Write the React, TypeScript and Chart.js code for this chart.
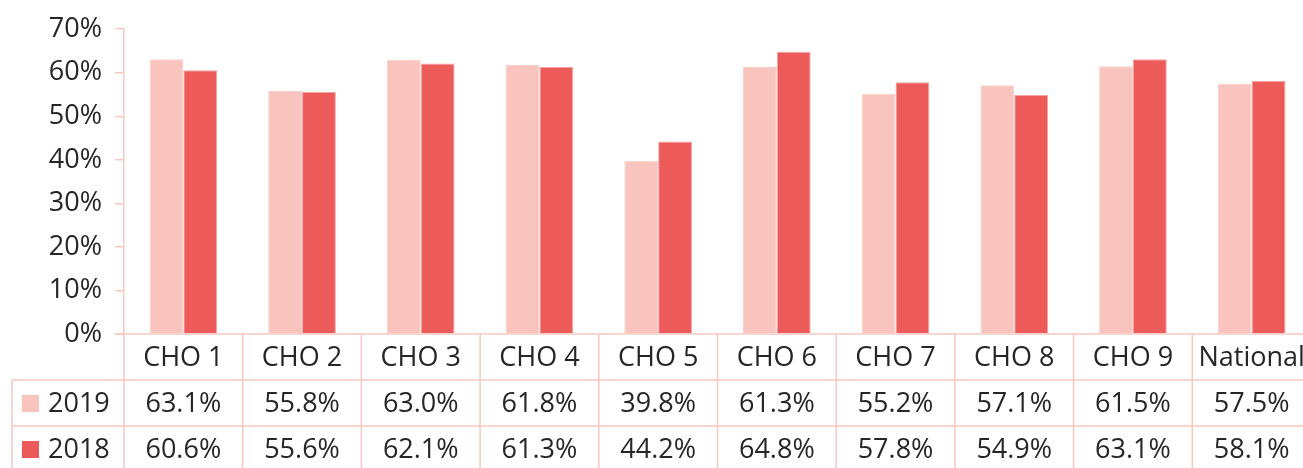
import React, { useEffect, useRef } from "react";
import { Chart, registerables } from "chart.js";

Chart.register(...registerables);

const categories = ["CHO 1", "CHO 2", "CHO 3", "CHO 4", "CHO 5", "CHO 6", "CHO 7", "CHO 8", "CHO 9", "National"];
const values2019 = [63.1, 55.8, 63.0, 61.8, 39.8, 61.3, 55.2, 57.1, 61.5, 57.5];
const values2018 = [60.6, 55.6, 62.1, 61.3, 44.2, 64.8, 57.8, 54.9, 63.1, 58.1];
const seriesLabels = ["2019", "2018"];

const LIGHT = "#F8C4BD";
const RED = "#EC5A5A";
const LINE = "#F8C8C0";
const TEXT = "#262626";
const FONT = "'Open Sans', 'Noto Sans', sans-serif";
const FONT_SIZE = 27;

const ROW_H = 46;

const tablePlugin = {
  id: "dataTable",
  afterDraw(chart: any) {
    const ctx = chart.ctx as CanvasRenderingContext2D;
    const area = chart.chartArea;
    const x = chart.scales.x;
    const n = categories.length;
    const catW = (area.right - area.left) / n;
    const top = area.bottom;
    const bottom = chart.height + 10;
    const legendLeft = 12;
    ctx.save();
    ctx.strokeStyle = LINE;
    ctx.lineWidth = 1.5;
    ctx.beginPath();
    ctx.moveTo(area.left - 9, top);
    ctx.lineTo(area.right, top);
    for (let r = 1; r <= 2; r++) {
      const y = top + r * ROW_H;
      ctx.moveTo(legendLeft, y);
      ctx.lineTo(area.right, y);
    }
    for (let i = 0; i <= n; i++) {
      const xx = area.left + i * catW;
      ctx.moveTo(xx, top);
      ctx.lineTo(xx, bottom);
    }
    ctx.moveTo(legendLeft, top + ROW_H);
    ctx.lineTo(legendLeft, bottom);
    ctx.stroke();

    ctx.fillStyle = TEXT;
    ctx.font = `${FONT_SIZE}px ${FONT}`;
    ctx.textAlign = "center";
    ctx.textBaseline = "middle";
    const rows = [values2019, values2018];
    for (let i = 0; i < n; i++) {
      const cx = x.getPixelForValue(i);
      ctx.fillText(categories[i], cx, top + ROW_H / 2 + 1);
      for (let r = 0; r < rows.length; r++) {
        ctx.fillText(rows[r][i].toFixed(1) + "%", cx, top + ROW_H * (r + 1) + ROW_H / 2 + 1);
      }
    }
    const colors = [LIGHT, RED];
    ctx.textAlign = "left";
    for (let r = 0; r < seriesLabels.length; r++) {
      const cy = top + ROW_H * (r + 1) + ROW_H / 2;
      ctx.fillStyle = colors[r];
      ctx.fillRect(22, cy - 8, 17, 17);
      ctx.fillStyle = TEXT;
      ctx.fillText(seriesLabels[r], 48, cy + 1);
    }
    ctx.restore();
  },
};

export default function App() {
  const ref = useRef<HTMLCanvasElement | null>(null);
  useEffect(() => {
    if (!ref.current) return;
    const chart = new Chart(ref.current, {
      type: "bar",
      data: {
        labels: categories,
        datasets: [
          { label: seriesLabels[0], data: values2019, backgroundColor: LIGHT, borderColor: "#F9CFC9", borderWidth: 1 },
          { label: seriesLabels[1], data: values2018, backgroundColor: RED, borderColor: "#F4A3A0", borderWidth: 1 },
        ],
      },
      options: {
        responsive: false,
        animation: false,
        events: [],
        categoryPercentage: 0.57,
        barPercentage: 1.0,
        layout: { padding: { top: 29, right: 9, bottom: 468 - 334, left: 0 } },
        plugins: { legend: { display: false }, tooltip: { enabled: false } },
        scales: {
          x: { display: false },
          y: {
            min: 0,
            max: 70,
            afterFit: (scale: any) => {
              scale.width = 124;
            },
            ticks: {
              stepSize: 10,
              padding: 13,
              color: TEXT,
              font: { family: FONT, size: FONT_SIZE },
              callback: (v: any) => `${v}%`,
            },
            grid: { drawOnChartArea: false, drawTicks: true, tickLength: 9, color: LINE, lineWidth: 1.5 },
            border: { color: LINE, width: 1.5 },
          },
        },
      },
      plugins: [tablePlugin],
    } as any);
    return () => chart.destroy();
  }, []);
  return (
    <div style={{ position: "fixed", left: 0, top: 0, width: 1303, height: 468, overflow: "hidden", background: "#fff" }}>
      <canvas ref={ref} width={1320} height={468} style={{ display: "block" }} />
    </div>
  );
}
